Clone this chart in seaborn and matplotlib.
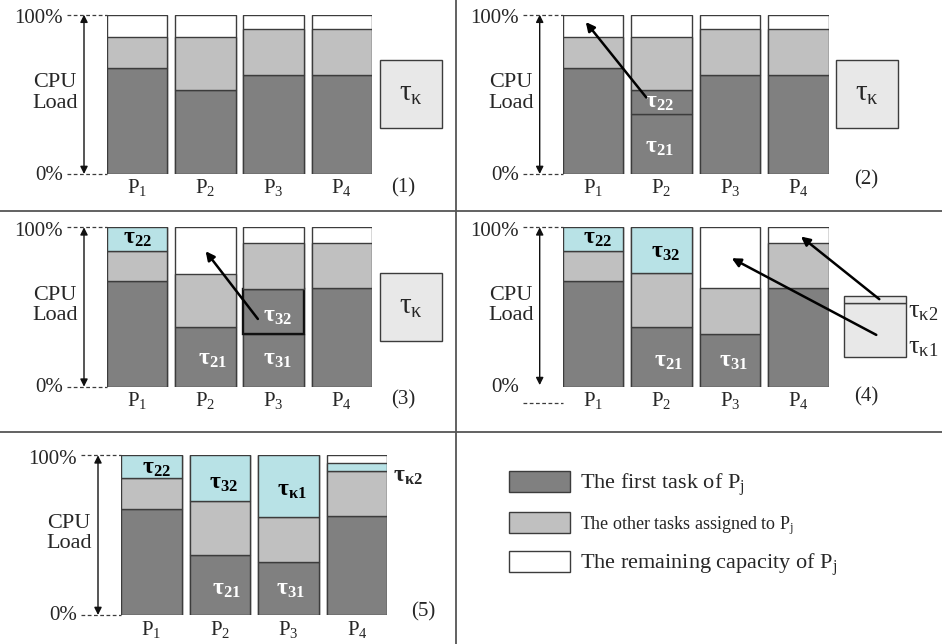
import numpy as np
import seaborn as sns
import matplotlib.pyplot as plt
from matplotlib.patches import Patch
from matplotlib.lines import Line2D

sns.set_theme(style='white')
plt.rcParams['font.family'] = ['Liberation Serif', 'DejaVu Serif']
plt.rcParams['mathtext.default'] = 'regular'

procs = ['P1', 'P2', 'P3', 'P4']
proc_labels = ['P$_1$', 'P$_2$', 'P$_3$', 'P$_4$']

# CPU load shares (fraction of 100%) per processor, stacked bottom -> top
first_1 = [0.667, 0.526, 0.62, 0.62]
other_1 = [0.19, 0.331, 0.288, 0.288]

first_2 = [0.667, 0.379, 0.62, 0.62]
split_2 = [0, 0.147, 0, 0]            # tau22 cut off P2's first task
other_2 = [0.19, 0.331, 0.288, 0.288]

first_3 = [0.663, 0.373, 0.329, 0.618]
split_3 = [0, 0, 0.284, 0]            # tau32 cut off P3's first task
other_3 = [0.189, 0.334, 0.287, 0.282]
moved_3 = [0.148, 0, 0, 0]            # tau22 placed on P1

first_4 = [0.663, 0.373, 0.329, 0.618]
other_4 = [0.189, 0.341, 0.289, 0.282]
moved_4 = [0.148, 0.286, 0, 0]        # tau22, tau32

first_5 = [0.664, 0.376, 0.33, 0.618]
other_5 = [0.192, 0.338, 0.284, 0.282]
moved_5 = [0.144, 0.286, 0.386, 0.05]  # tau22, tau32, tau_k1, tau_k2

kappa = [0.428]                 # tau_kappa, not yet split
kappa_parts = [0.336, 0.047]    # tau_k1, tau_k2

legend_labels = ['The first task of P$_j$',
                 'The other tasks assigned to P$_j$',
                 'The remaining capacity of P$_j$']

DARK, LIGHT, CYAN, BOX, EDGE = '#808080', '#c0c0c0', '#b8e2e6', '#e8e8e8', '#3c3c3c'
styles = {'first': (DARK, EDGE, 1.0), 'split': (DARK, EDGE, 1.0),
          'split_hl': (DARK, '#111111', 1.7), 'other': (LIGHT, EDGE, 1.0),
          'moved': (CYAN, EDGE, 1.0)}
BW = 0.883
W, H = 942, 644

panels = [
    dict(rect=(107, 14.7, 372, 174),
         layers=[('first', first_1), ('other', other_1)],
         box=(4.01, 0.289, kappa), num='(1)', num_off=(31, -14),
         labels=[], arrows=[]),
    dict(rect=(562.7, 14.7, 829, 174),
         layers=[('first', first_2), ('split', split_2), ('other', other_2)],
         box=(3.995, 0.289, kappa), num='(2)', num_off=(37, -6),
         labels=[('τ$_{21}$', 0.97, 0.165, 'white'), ('τ$_{22}$', 0.97, 0.448, 'white')],
         arrows=[((0.778, 0.48), (-0.105, 0.954))]),
    dict(rect=(107, 227.3, 372, 386.7),
         layers=[('first', first_3), ('split_hl', split_3), ('other', other_3), ('moved', moved_3)],
         box=(4.01, 0.287, kappa), num='(3)', num_off=(31, -13),
         labels=[('τ$_{22}$', 0.0, 0.928, 'black'), ('τ$_{21}$', 1.1, 0.168, 'white'),
                 ('τ$_{31}$', 2.05, 0.168, 'white'), ('τ$_{32}$', 2.05, 0.44, 'white')],
         arrows=[((1.769, 0.425), (1.004, 0.85))]),
    dict(rect=(562.7, 227.3, 829, 386.7),
         layers=[('first', first_4), ('other', other_4), ('moved', moved_4)],
         box=(4.11, 0.188, kappa_parts), num='(4)', num_off=(37, -10),
         labels=[('τ$_{22}$', 0.07, 0.928, 'black'), ('τ$_{32}$', 1.05, 0.84, 'black'),
                 ('τ$_{21}$', 1.1, 0.157, 'white'), ('τ$_{31}$', 2.05, 0.157, 'white')],
         arrows=[((4.175, 0.549), (3.033, 0.942)), ((4.131, 0.325), (2.023, 0.806))],
         zero_line=-0.1),
    dict(rect=(121, 455.3, 387.3, 615),
         layers=[('first', first_5), ('other', other_5), ('moved', moved_5)],
         box=None, num='(5)', num_off=(36, 3),
         labels=[('τ$_{22}$', 0.08, 0.92, 'black'), ('τ$_{32}$', 1.05, 0.825, 'black'),
                 ('τ$_{\\kappa1}$', 2.05, 0.78, 'black'), ('τ$_{21}$', 1.1, 0.157, 'white'),
                 ('τ$_{31}$', 2.03, 0.157, 'white')],
         arrows=[]),
]

fig = plt.figure(figsize=(W / 100, H / 100), dpi=100)

for p in panels:
    l, t, r, b = p['rect']
    ax = fig.add_axes([l / W, 1 - b / H, (r - l) / W, (b - t) / H])
    pitch = (r - l) / (3 + BW)
    left, right = -BW / 2, 3 + BW / 2

    # full capacity of each processor; whatever stays uncovered is the white remainder
    sns.barplot(x=procs, y=[1] * 4, color='white', saturation=1, width=BW,
                edgecolor=EDGE, linewidth=1.0, errorbar=None, ax=ax)
    bottom = np.zeros(4)
    for kind, vals in p['layers']:
        fc, ec, lw = styles[kind]
        vals = np.asarray(vals, float)
        keep = vals > 0
        ax.bar(np.arange(4)[keep], vals[keep], width=BW, bottom=bottom[keep],
               color=fc, edgecolor=ec, linewidth=lw, zorder=3)
        bottom += vals
    ax.set_xlim(left, right)
    ax.set_ylim(0, 1)
    ax.set_axis_off()

    # tau_kappa box
    if p['box'] is not None:
        bx, by, parts = p['box']
        for h in parts:
            ax.bar(bx, h, width=0.9, bottom=by, color=BOX, edgecolor=EDGE,
                   linewidth=1.0, clip_on=False, zorder=3)
            by += h
        if len(parts) == 1:
            ax.text(bx, p['box'][1] + parts[0] / 2, 'τ$_\\kappa$', ha='center',
                    va='center', fontsize=21, zorder=5)
        else:
            ax.text(bx + 0.48, 0.47, 'τ$_{\\kappa2}$', ha='left', va='center', fontsize=19)
            ax.text(bx + 0.48, 0.24, 'τ$_{\\kappa1}$', ha='left', va='center', fontsize=19)

    # y scale: labels, dashed guides and the double arrow
    zl = p.get('zero_line', 0)
    ax.annotate('100%', xy=(left, 1), xytext=(-44, -4), textcoords='offset pixels',
                ha='right', va='center', fontsize=15, annotation_clip=False)
    ax.annotate('0%', xy=(left, 0), xytext=(-44, -1), textcoords='offset pixels',
                ha='right', va='center', fontsize=15, annotation_clip=False)
    ax.plot([left - 40 / pitch, left], [1, 1], ls=(0, (3, 2)), color=EDGE, lw=0.9, clip_on=False)
    ax.plot([left - 40 / pitch, left], [zl, zl], ls=(0, (3, 2)), color=EDGE, lw=0.9, clip_on=False)
    xa = left - 23 / pitch
    ax.annotate('', xy=(xa, 1), xytext=(xa, 0 if zl == 0 else 0.01),
                arrowprops=dict(arrowstyle='<|-|>', color='#111111', lw=1.0,
                                mutation_scale=11, shrinkA=0, shrinkB=0),
                annotation_clip=False)
    ax.text(left - 52 / pitch, 0.51, 'CPU\nLoad', ha='center', va='center',
            fontsize=16, linespacing=1.12)

    for i, lab in enumerate(proc_labels):
        ax.annotate(lab, xy=(i, 0), xytext=(0, -14), textcoords='offset pixels',
                    ha='center', va='center', fontsize=15, annotation_clip=False)
    ax.annotate(p['num'], xy=(right, 0), xytext=p['num_off'], textcoords='offset pixels',
                ha='center', va='center', fontsize=15, annotation_clip=False)

    for txt, x, y, c in p['labels']:
        ax.text(x, y, txt, ha='center', va='center', color=c, fontsize=17,
                fontweight='bold', zorder=6)
    for (x0, y0), (x1, y1) in p['arrows']:
        ax.annotate('', xy=(x1, y1), xytext=(x0, y0),
                    arrowprops=dict(arrowstyle='-|>', color='black', lw=1.8,
                                    mutation_scale=13, shrinkA=0, shrinkB=0),
                    annotation_clip=False, zorder=7)

    if p['num'] == '(5)':
        ax.text(right + 6 / pitch, 0.87, 'τ$_{\\kappa2}$', ha='left', va='center',
                fontsize=17, fontweight='bold')

# legend in the empty lower-right cell
handles = [Patch(facecolor=DARK, edgecolor=EDGE), Patch(facecolor=LIGHT, edgecolor=EDGE),
           Patch(facecolor='white', edgecolor=EDGE)]
leg = fig.legend(handles, legend_labels, loc='upper left', bbox_to_anchor=(509 / W, 1 - 471 / H),
                 frameon=False, fontsize=16, handlelength=2.75, handleheight=1.1,
                 handletextpad=0.45, labelspacing=0.6, borderpad=0, borderaxespad=0)
leg.get_texts()[1].set_fontsize(13)

# grid separators
for xs, ys in [([456 / W] * 2, [0, 1]), ([0, 1], [1 - 211 / H] * 2), ([0, 1], [1 - 432 / H] * 2)]:
    fig.add_artist(Line2D(xs, ys, color='#555555', lw=1.3))

fig.savefig('out.png', dpi=100)
